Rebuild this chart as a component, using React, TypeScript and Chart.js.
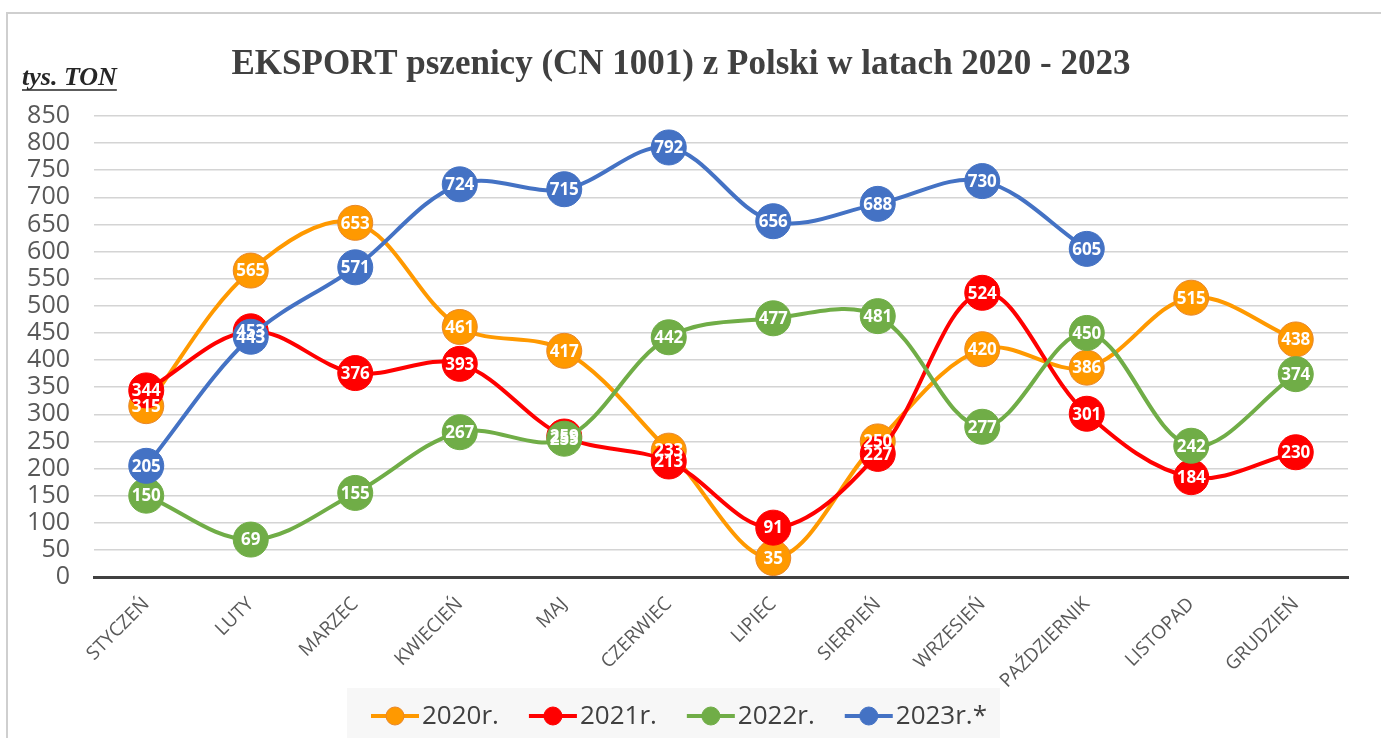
import React, { useEffect, useRef } from 'react';
import { Chart, registerables } from 'chart.js';

Chart.register(...registerables);

const months = ['STYCZEŃ', 'LUTY', 'MARZEC', 'KWIECIEŃ', 'MAJ', 'CZERWIEC', 'LIPIEC', 'SIERPIEŃ', 'WRZESIEŃ', 'PAŹDZIERNIK', 'LISTOPAD', 'GRUDZIEŃ'];
const y2020 = [315, 565, 653, 461, 417, 233, 35, 250, 420, 386, 515, 438];
const y2021 = [344, 453, 376, 393, 259, 213, 91, 227, 524, 301, 184, 230];
const y2022 = [150, 69, 155, 267, 255, 442, 477, 481, 277, 450, 242, 374];
const y2023 = [205, 443, 571, 724, 715, 792, 656, 688, 730, 605, null, null];
const seriesNames = ['2020r.', '2021r.', '2022r.', '2023r.*'];
const chartTitle = 'EKSPORT pszenicy (CN 1001) z Polski w latach 2020 - 2023';
const unitLabel = 'tys. TON';

const COLORS = ['#FF9900', '#FF0000', '#70AD47', '#4472C4'];
const BORDERS = ['#E8872A', '#FF0000', '#70AD47', '#4472C4'];

const decorPlugin = {
  id: 'decor',
  beforeDraw(chart: any) {
    const ctx = chart.ctx;
    ctx.save();
    ctx.fillStyle = '#ffffff';
    ctx.fillRect(0, 0, chart.width, chart.height);
    ctx.strokeStyle = '#cfcfcf';
    ctx.lineWidth = 2;
    ctx.beginPath();
    ctx.moveTo(7, chart.height);
    ctx.lineTo(7, 13);
    ctx.lineTo(chart.width, 13);
    ctx.stroke();
    ctx.restore();
  },
  afterDatasetsDraw(chart: any) {
    const ctx = chart.ctx;
    ctx.save();
    ctx.font = 'bold 17px "Open Sans"';
    ctx.fillStyle = '#ffffff';
    ctx.textAlign = 'center';
    ctx.textBaseline = 'middle';
    chart.data.datasets.forEach((ds: any, i: number) => {
      const meta = chart.getDatasetMeta(i);
      meta.data.forEach((pt: any, j: number) => {
        const v = ds.data[j];
        if (v === null || v === undefined) return;
        ctx.fillText(String(v), pt.x, pt.y + 1);
      });
    });
    ctx.restore();
  },
  afterDraw(chart: any) {
    const ctx = chart.ctx;
    ctx.save();
    // title
    ctx.fillStyle = '#404040';
    ctx.font = 'bold 35px "Liberation Serif"';
    ctx.textAlign = 'center';
    ctx.textBaseline = 'alphabetic';
    ctx.fillText(chartTitle, 681, 74);
    // unit label
    ctx.fillStyle = '#262626';
    ctx.font = 'italic bold 26px "Liberation Serif"';
    ctx.textAlign = 'left';
    ctx.fillText(unitLabel, 22, 85);
    const w = ctx.measureText(unitLabel).width;
    ctx.strokeStyle = '#262626';
    ctx.lineWidth = 1.5;
    ctx.beginPath();
    ctx.moveTo(22, 90);
    ctx.lineTo(22 + w, 90);
    ctx.stroke();
    // legend
    ctx.fillStyle = '#f7f7f7';
    ctx.fillRect(347, 688, 653, 60);
    ctx.font = '26px "Open Sans"';
    ctx.textBaseline = 'middle';
    let x = 371;
    const ly = 716;
    seriesNames.forEach((name, i) => {
      ctx.strokeStyle = COLORS[i];
      ctx.lineWidth = 4;
      ctx.beginPath();
      ctx.moveTo(x, ly);
      ctx.lineTo(x + 48, ly);
      ctx.stroke();
      ctx.beginPath();
      ctx.arc(x + 24, ly, 9, 0, Math.PI * 2);
      ctx.fillStyle = COLORS[i];
      ctx.fill();
      ctx.lineWidth = 1;
      ctx.strokeStyle = BORDERS[i];
      ctx.stroke();
      ctx.fillStyle = '#404040';
      ctx.fillText(name, x + 51, ly + 1);
      x += 51 + ctx.measureText(name).width + 30;
    });
    ctx.restore();
  },
};

export default function App() {
  const ref = useRef<HTMLCanvasElement | null>(null);
  useEffect(() => {
    if (!ref.current) return;
    const series = [y2020, y2021, y2022, y2023];
    const chart = new Chart(ref.current, {
      type: 'line',
      data: {
        labels: months,
        datasets: series.map((d, i) => ({
          label: seriesNames[i],
          data: d,
          borderColor: COLORS[i],
          backgroundColor: COLORS[i],
          borderWidth: 4,
          tension: 0.35,
          pointRadius: 17.5,
          pointHoverRadius: 17.5,
          pointBackgroundColor: COLORS[i],
          pointBorderColor: BORDERS[i],
          pointBorderWidth: 1,
          order: 4 - i,
          spanGaps: false,
        })),
      },
      options: {
        responsive: false,
        animation: false,
        events: [],
        layout: { padding: { left: 0, right: 33, top: 116, bottom: 0 } },
        plugins: {
          legend: { display: false },
          title: { display: false },
          tooltip: { enabled: false },
        },
        scales: {
          x: {
            offset: true,
            grid: { display: false, drawTicks: false },
            border: { display: true, color: '#404040', width: 3 },
            ticks: {
              autoSkip: false,
              minRotation: 45,
              maxRotation: 45,
              padding: 16,
              color: '#595959',
              font: { family: '"Open Sans"', size: 19 },
            },
            afterFit(s: any) {
              s.height = 161;
            },
          },
          y: {
            min: 0,
            max: 850,
            ticks: {
              stepSize: 50,
              autoSkip: false,
              padding: 24,
              color: '#595959',
              font: { family: '"Open Sans"', size: 25, lineHeight: 1 },
            },
            grid: { color: '#d4d4d4', lineWidth: 1.5, drawTicks: false },
            border: { display: false },
            afterFit(s: any) {
              s.width = 94;
            },
          },
        },
      },
      plugins: [decorPlugin],
    });
    return () => chart.destroy();
  }, []);
  return (
    <div style={{ position: 'fixed', left: 0, top: 0, width: 1381, height: 738, background: '#fff' }}>
      <canvas ref={ref} width={1381} height={738} style={{ display: 'block', width: 1381, height: 738 }} />
    </div>
  );
}
